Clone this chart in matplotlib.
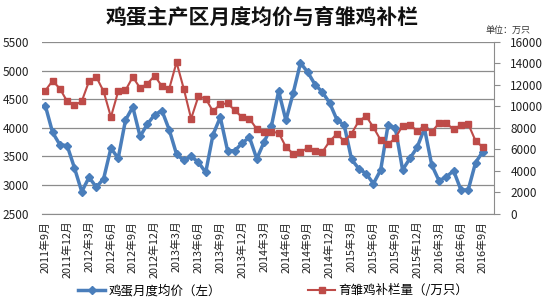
import matplotlib
matplotlib.use('Agg')
import matplotlib.pyplot as plt

plt.rcParams['font.family'] = ['Noto Sans CJK SC', 'DejaVu Sans']

# monthly data, 2011-09 .. 2016-09
egg_price = [4390, 3920, 3705, 3690, 3300, 2885, 3135, 2965, 3110, 3645,
             3470, 4135, 4365, 3850, 4065, 4230, 4300, 3965, 3540, 3430,
             3500, 3400, 3220, 3880, 4185, 3600, 3600, 3735, 3835, 3460,
             3750, 4025, 4640, 4130, 4610, 5135, 4970, 4755, 4625, 4435,
             4140, 4045, 3450, 3285, 3200, 3025, 3265, 4045, 4005, 3265,
             3465, 3660, 3990, 3350, 3075, 3145, 3250, 2915, 2915, 3390,
             3585]
chick_stock = [11460, 12390, 11650, 10470, 10100, 10470, 12340, 12740, 11400, 9010,
               11400, 11500, 12740, 11710, 12110, 12860, 11870, 11650, 14110, 11620,
               8850, 10940, 10720, 9540, 10200, 10280, 9630, 8980, 8850, 7890,
               7610, 7610, 7550, 6210, 5590, 5750, 6120, 5870, 5750, 6750,
               7450, 6750, 7460, 8640, 9090, 8050, 6850, 6460, 7040, 8200,
               8260, 7730, 8110, 7640, 8420, 8420, 7860, 8260, 8360, 6800,
               6190]
tick_labels = ['2011年9月', '2011年12月', '2012年3月', '2012年6月', '2012年9月',
               '2012年12月', '2013年3月', '2013年6月', '2013年9月', '2013年12月',
               '2014年3月', '2014年6月', '2014年9月', '2014年12月', '2015年3月',
               '2015年6月', '2015年9月', '2015年12月', '2016年3月', '2016年6月',
               '2016年9月']

x = list(range(len(egg_price)))
tick_pos = x[::3]

fig = plt.figure(figsize=(5.5, 3), dpi=100)
ax = fig.add_axes([0.0757, 0.2877, 0.822, 0.5723])
ax2 = ax.twinx()

grid_c = '#8c8c8c'
ax.set_ylim(2500, 5500)
ax.set_yticks(range(2500, 5501, 500))
ax.grid(axis='y', color=grid_c, lw=0.9)
ax.set_axisbelow(True)
ax.set_xlim(-0.5, 61.5)
ax.set_xticks(tick_pos)
ax.set_xticklabels(tick_labels, rotation=90, fontsize=7.8, color='#222222')
ax.tick_params(axis='x', length=0, pad=5)
ax.tick_params(axis='y', length=0, pad=9, labelsize=8.5, labelcolor='#222222')
for s in ['top', 'left', 'right']:
    ax.spines[s].set_visible(False)
ax.spines['bottom'].set_color(grid_c)

ax2.set_ylim(0, 16000)
ax2.set_yticks(range(0, 16001, 2000))
ax2.tick_params(axis='y', length=4, color=grid_c, pad=8, labelsize=8.5, labelcolor='#222222')
for s in ['top', 'left', 'bottom']:
    ax2.spines[s].set_visible(False)
ax2.spines['right'].set_color(grid_c)

l1, = ax.plot(x, egg_price, color='#4A7EBB', lw=2.5, marker='D', markersize=4.5,
              label='鸡蛋月度均价（左）')
l2, = ax2.plot(x, chick_stock, color='#BE4B48', lw=1.5, marker='s', markersize=4,
               label='育雏鸡补栏量（/万只）')

fig.text(0.477, 0.943, '鸡蛋主产区月度均价与育雏鸡补栏', ha='center', va='center',
         fontsize=15, fontweight='bold', color='#111111')
fig.text(0.965, 0.897, '单位：万只', ha='right', va='center', fontsize=6.5, color='#333333')

fig.legend(handles=[l1, l2], loc='center', bbox_to_anchor=(0.497, 0.03), ncol=2,
           frameon=False, fontsize=9, handlelength=2.1, handletextpad=0.3,
           columnspacing=7, borderaxespad=0)

fig.savefig('out.png', dpi=100, facecolor='white')
